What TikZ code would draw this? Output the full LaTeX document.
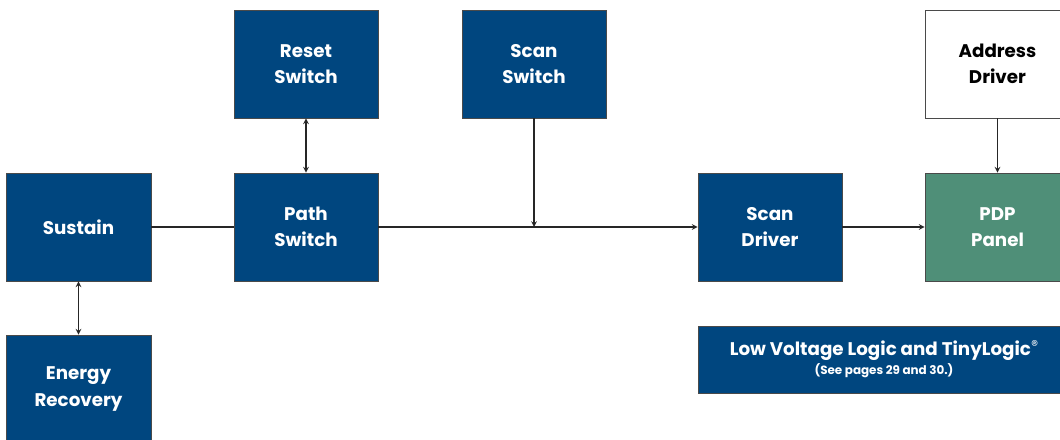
\documentclass[tikz,border=0pt]{standalone}
\usepackage{fontspec}
\setmainfont{Poppins}
\definecolor{boxblue}{HTML}{00467F}
\definecolor{panelgreen}{HTML}{4F8F78}
\definecolor{edgegray}{HTML}{4A4A4A}
\tikzset{
  blk/.style={draw=edgegray, line width=0.6pt, fill=boxblue, text=white,
    minimum width=3.6cm, minimum height=2.7cm, align=center,
    font=\bfseries\fontsize{13}{18.5}\selectfont},
  wblk/.style={blk, fill=white, text=black},
  gblk/.style={blk, fill=panelgreen},
  link/.style={line width=0.8pt, black!85}
}
\begin{document}
\begin{tikzpicture}[>=stealth, x=0.025cm, y=-0.025cm]
\path[use as bounding box, clip] (0,0) rectangle (1060,440);

\node[blk](R) at (306,64){Reset\\Switch};
\node[blk](S) at (534,64){Scan\\Switch};
\node[wblk, minimum width=3.625cm](A) at (997.5,64){Address\\Driver};

\node[blk, minimum width=3.625cm](U) at (78.5,227){Sustain};
\node[blk](P) at (306,227){Path\\Switch};
\node[blk](D) at (770,227){Scan\\Driver};
\node[gblk, minimum width=3.625cm](G) at (997.5,227){PDP\\Panel};

\node[blk, minimum width=3.625cm](E) at (78.5,389){Energy\\Recovery};

\node[blk, minimum width=9.3cm, minimum height=1.675cm](L) at (884,359.5)
  {Low Voltage Logic and TinyLogic\raisebox{0.5ex}{\fontsize{10}{10}\selectfont\normalfont ®}\\[-5pt]
   {\fontsize{8.5}{10}\selectfont (See pages 29 and 30.)}};

\coordinate(J) at (S.south |- P.east);

\draw[link](U)--(P);
\draw[link,->](P)--(D);
\draw[link,->](S)--(J);
\draw[link,->](D)--(G);
\draw[link,->](A)--(G);
\draw[link,<->](R)--(P);
\draw[link,<->](U)--(E);
\end{tikzpicture}
\end{document}
